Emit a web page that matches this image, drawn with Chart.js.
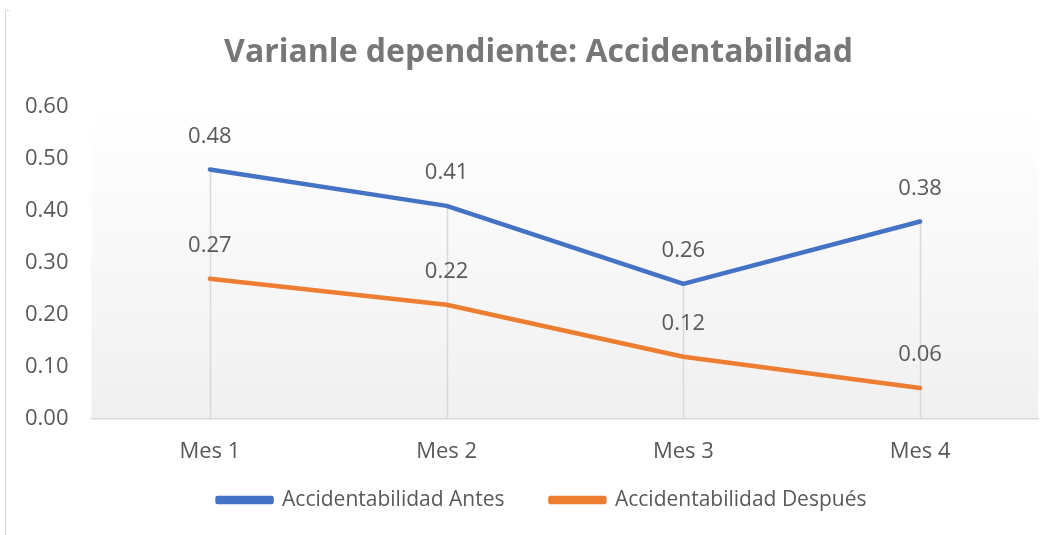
<!DOCTYPE html>
<html>
<head>
<meta charset="utf-8">
<script src="https://cdn.jsdelivr.net/npm/chart.js@4/dist/chart.umd.min.js"></script>
<style>
html,body{margin:0;padding:0;background:#fff;}
#wrap{position:relative;width:1055px;height:535px;}
</style>
</head>
<body>
<div id="wrap"><canvas id="c" width="1055" height="535"></canvas></div>
<script>
const categories = ["Mes 1", "Mes 2", "Mes 3", "Mes 4"];
const antes = [0.48, 0.41, 0.26, 0.38];
const despues = [0.27, 0.22, 0.12, 0.06];
const seriesNames = ["Accidentabilidad Antes", "Accidentabilidad Después"];
const titleText = "Varianle dependiente: Accidentabilidad";

const FONT = "'Open Sans', sans-serif";
const TXT = "#595959";

const bgPlugin = {
  id: "bg",
  afterLayout(chart) {
    const lg = chart.legend;
    if (lg) {
      lg.top -= 14.4; lg.bottom -= 14.4;
      lg.left += 22.75; lg.right += 22.75;
    }
  },
  beforeDraw(chart) {
    const {ctx, chartArea: a} = chart;
    ctx.save();
    ctx.fillStyle = "#fff";
    ctx.fillRect(0, 0, chart.width, chart.height);
    ctx.strokeStyle = "#d9d9d9";
    ctx.lineWidth = 1;
    ctx.beginPath();
    ctx.moveTo(5.5, 535);
    ctx.lineTo(5.5, 10.5);
    ctx.lineTo(9, 10.5);
    ctx.stroke();
    const g = ctx.createLinearGradient(0, a.top, 0, a.bottom);
    g.addColorStop(0, "#ffffff");
    g.addColorStop(1, "#f0f0f0");
    ctx.fillStyle = g;
    ctx.fillRect(a.left, a.top, a.right - a.left, a.bottom - a.top);
    ctx.font = "bold 32px " + FONT;
    ctx.fillStyle = "#777777";
    ctx.textAlign = "center";
    ctx.textBaseline = "middle";
    ctx.fillText(titleText, 538.5, 53);
    ctx.restore();
  },
  beforeDatasetsDraw(chart) {
    const {ctx, scales: {x, y}} = chart;
    ctx.save();
    ctx.strokeStyle = "#d9d9d9";
    ctx.lineWidth = 1.5;
    categories.forEach((c, i) => {
      const top = Math.max(...chart.data.datasets.map(d => d.data[i]));
      const px = Math.round(x.getPixelForValue(i)) + 0.5;
      ctx.beginPath();
      ctx.moveTo(px, y.getPixelForValue(top));
      ctx.lineTo(px, y.getPixelForValue(0));
      ctx.stroke();
    });
    ctx.restore();
  },
  afterDatasetsDraw(chart) {
    const {ctx} = chart;
    ctx.save();
    ctx.font = "22px " + FONT;
    ctx.fillStyle = TXT;
    ctx.textAlign = "center";
    ctx.textBaseline = "middle";
    chart.data.datasets.forEach((ds, di) => {
      const meta = chart.getDatasetMeta(di);
      meta.data.forEach((pt, i) => {
        ctx.fillText(ds.data[i].toFixed(2), pt.x, pt.y - 33);
      });
    });
    ctx.restore();
  }
};

new Chart(document.getElementById("c"), {
  type: "line",
  data: {
    labels: categories,
    datasets: [
      {label: seriesNames[0], data: antes, borderColor: "#4472C4", backgroundColor: "#4472C4", borderWidth: 4.5, pointRadius: 0, tension: 0, borderCapStyle: "round", borderJoinStyle: "round"},
      {label: seriesNames[1], data: despues, borderColor: "#ED7D31", backgroundColor: "#ED7D31", borderWidth: 4.5, pointRadius: 0, tension: 0, borderCapStyle: "round", borderJoinStyle: "round"}
    ]
  },
  options: {
    responsive: false,
    animation: false,
    devicePixelRatio: 1,
    layout: {padding: {left: 0, right: 16.5, top: 107, bottom: 0}},
    plugins: {
      title: {display: false},
      legend: {position: "bottom", labels: {color: TXT, font: {family: FONT, size: 21}, boxWidth: 54, boxHeight: 4, padding: 46}},
      tooltip: {enabled: false}
    },
    scales: {
      x: {
        offset: true,
        grid: {display: false, drawTicks: false},
        border: {display: true, color: "#d9d9d9", width: 1.5},
        ticks: {color: TXT, font: {family: FONT, size: 22}, padding: 19},
        afterFit(s) { s.height = 38.8; }
      },
      y: {
        min: 0, max: 0.6,
        grid: {display: false, drawTicks: false},
        border: {display: false},
        ticks: {stepSize: 0.1, color: TXT, font: {family: FONT, size: 22}, padding: 23, callback: v => v.toFixed(2)},
        afterFit(s) { s.width = 91.5; }
      }
    }
  },
  plugins: [bgPlugin]
});
</script>
</body>
</html>
